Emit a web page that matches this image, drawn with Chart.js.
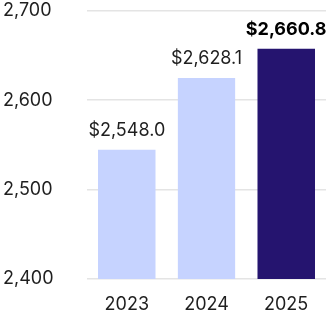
<!DOCTYPE html>
<html>
<head>
<meta charset="utf-8">
<script src="https://cdn.jsdelivr.net/npm/chart.js@4.4.1/dist/chart.umd.min.js"></script>
<style>
  html, body { margin: 0; padding: 0; background: #ffffff; }
  #wrap { width: 326px; height: 326px; position: relative; }
</style>
</head>
<body>
<div id="wrap"><canvas id="chart"></canvas></div>
<script>
// Revenue by year, in dollars
const years = ['2023', '2024', '2025'];
const revenue = [2548.0, 2628.1, 2660.8];
const yTicks = [2400, 2500, 2600, 2700];
const barColors = ['#c6d3ff', '#c6d3ff', '#25146f'];
const highlightIndex = 2;

const FONT = 'Inter, "Noto Sans", sans-serif';
const TEXT = '#1f1f1f';

const fmtTick = v => v.toLocaleString('en-US');
const fmtMoney = v => '$' + v.toLocaleString('en-US', { minimumFractionDigits: 1, maximumFractionDigits: 1 });

// Draws the dollar value above each bar
const valueLabels = {
  id: 'valueLabels',
  afterDatasetsDraw(chart) {
    const ctx = chart.ctx;
    const meta = chart.getDatasetMeta(0);
    ctx.save();
    ctx.textAlign = 'center';
    ctx.textBaseline = 'alphabetic';
    meta.data.forEach((bar, i) => {
      const bold = i === highlightIndex;
      ctx.font = (bold ? '700 ' : '400 ') + '18px ' + FONT;
      ctx.fillStyle = bold ? '#000000' : TEXT;
      ctx.fillText(fmtMoney(revenue[i]), bar.x, bar.y - 11);
    });
    ctx.restore();
  }
};

new Chart(document.getElementById('chart'), {
  type: 'bar',
  data: {
    labels: years,
    datasets: [{
      data: revenue,
      backgroundColor: barColors,
      // thin white edge at top and bottom so bars sit slightly inset
      borderColor: '#ffffff',
      borderWidth: { top: 3, bottom: 2, left: 0, right: 0 },
      borderSkipped: false,
      categoryPercentage: 1.0,
      barPercentage: 0.725
    }]
  },
  options: {
    responsive: true,
    maintainAspectRatio: false,
    animation: false,
    layout: { padding: { left: 3, right: 0, top: 9, bottom: 0 } },
    plugins: { legend: { display: false }, tooltip: { enabled: false } },
    scales: {
      x: {
        grid: { display: false, drawTicks: false },
        border: { display: false },
        ticks: { color: TEXT, font: { family: FONT, size: 18 }, padding: 15 },
        afterFit(scale) { scale.height = 47; }
      },
      y: {
        min: 2400,
        max: 2700,
        afterBuildTicks(scale) { scale.ticks = yTicks.map(v => ({ value: v })); },
        grid: { color: '#e4e4e4', lineWidth: 1.5, drawTicks: false },
        border: { display: false },
        ticks: {
          color: TEXT,
          font: { family: FONT, size: 18 },
          crossAlign: 'far',
          padding: 0,
          callback: v => fmtTick(v)
        },
        afterFit(scale) { scale.width = 84; }
      }
    }
  },
  plugins: [valueLabels]
});
</script>
</body>
</html>
